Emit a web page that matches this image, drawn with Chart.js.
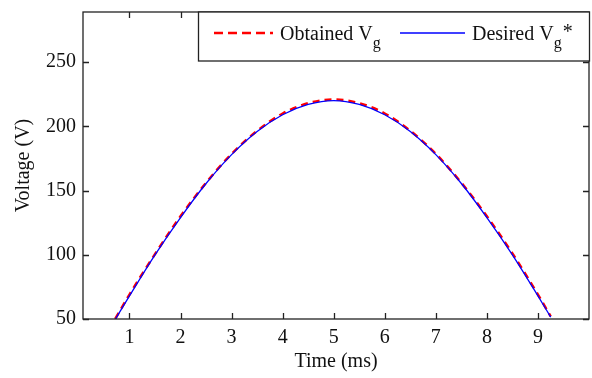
<!DOCTYPE html>
<html>
<head>
<meta charset="utf-8">
<script src="https://cdn.jsdelivr.net/npm/chart.js@4"></script>
<style>
  html, body { margin: 0; padding: 0; background: #fff; }
  #wrap { width: 592px; height: 378px; }
</style>
</head>
<body>
<div id="wrap"><canvas id="chart" width="592" height="378"></canvas></div>
<script>
// values
const timeMs = [0.72, 1, 1.5, 2, 2.5, 3, 3.5, 4, 4.5, 5, 5.5, 6, 6.5, 7, 7.5, 8, 8.5, 9, 9.25];
const desiredVg = [49.5, 68, 100, 129, 155.5, 178, 196, 209, 217, 220, 217, 209, 196, 178, 155.5, 129, 100, 68, 51.5];
const obtainedVg = [50, 69, 100.5, 130, 156, 178.5, 196.5, 210, 218, 221, 218, 210, 196.5, 178.5, 156, 130, 101, 69, 52];
const xTicks = [1, 2, 3, 4, 5, 6, 7, 8, 9];
const yTicks = [50, 100, 150, 200, 250];
const legendLabels = ["Obtained V", "Desired V"];

const FONT = "'Liberation Serif', 'Times New Roman', serif";
const ctx = document.getElementById("chart").getContext("2d");

function pts(xs, ys) {
  return xs.map((x, i) => ({ x, y: ys[i] }));
}

// MATLAB style: box around the axes, ticks pointing inward on all four sides
const boxTicks = {
  id: "boxTicks",
  afterDraw(chart) {
    const { ctx, chartArea: a, scales } = chart;
    ctx.save();
    ctx.strokeStyle = "#222";
    ctx.lineWidth = 1.3;
    ctx.strokeRect(a.left, a.top, a.right - a.left, a.bottom - a.top);
    ctx.beginPath();
    for (const v of xTicks) {
      const px = Math.round(scales.x.getPixelForValue(v)) + 0.5;
      ctx.moveTo(px, a.bottom); ctx.lineTo(px, a.bottom - 6);
      ctx.moveTo(px, a.top); ctx.lineTo(px, a.top + 6);
    }
    for (const v of yTicks) {
      const py = Math.round(scales.y.getPixelForValue(v)) + 0.5;
      ctx.moveTo(a.left, py); ctx.lineTo(a.left + 6, py);
      ctx.moveTo(a.right, py); ctx.lineTo(a.right - 6, py);
    }
    ctx.stroke();
    ctx.restore();
  },
};

// legend box with subscripts, drawn in the top right corner
const subLegend = {
  id: "subLegend",
  afterDraw(chart) {
    const { ctx, chartArea: a } = chart;
    const x0 = 198, y0 = a.top, x1 = a.right, y1 = 61;
    ctx.save();
    ctx.fillStyle = "#fff";
    ctx.fillRect(x0, y0, x1 - x0, y1 - y0);
    ctx.strokeStyle = "#222";
    ctx.lineWidth = 1.3;
    ctx.strokeRect(x0 + 0.5, y0, x1 - x0, y1 - y0);
    const ly = 33;
    ctx.lineWidth = 2.5;
    ctx.strokeStyle = "#ff0000";
    ctx.setLineDash([9, 5]);
    ctx.beginPath(); ctx.moveTo(214, ly); ctx.lineTo(273, ly); ctx.stroke();
    ctx.setLineDash([]);
    ctx.lineWidth = 1.3;
    ctx.strokeStyle = "#0000ff";
    ctx.beginPath(); ctx.moveTo(400, ly); ctx.lineTo(465, ly); ctx.stroke();

    ctx.fillStyle = "#111";
    ctx.textBaseline = "alphabetic";
    ctx.font = "20px " + FONT;
    ctx.fillText(legendLabels[0], 280, 40);
    let w = ctx.measureText(legendLabels[0]).width;
    ctx.font = "16px " + FONT;
    ctx.fillText("g", 280 + w, 48);
    ctx.font = "20px " + FONT;
    ctx.fillText(legendLabels[1], 472, 40);
    w = ctx.measureText(legendLabels[1]).width;
    ctx.font = "16px " + FONT;
    ctx.fillText("g", 472 + w, 48);
    ctx.font = "20px " + FONT;
    ctx.fillText("*", 472 + w + 9, 38);
    ctx.restore();
  },
};

new Chart(ctx, {
  type: "line",
  data: {
    datasets: [
      {
        label: "Desired Vg*",
        data: pts(timeMs, desiredVg),
        borderColor: "#0000ff",
        borderWidth: 1.3,
        pointRadius: 0,
        cubicInterpolationMode: "monotone",
        order: 1,
      },
      {
        label: "Obtained Vg",
        data: pts(timeMs, obtainedVg),
        borderColor: "#ff0000",
        borderWidth: 2.5,
        borderDash: [7, 5],
        pointRadius: 0,
        cubicInterpolationMode: "monotone",
        order: 2,
      },
    ],
  },
  options: {
    responsive: false,
    animation: false,
    layout: { padding: { top: 12, right: 3, left: 0, bottom: 0 } },
    plugins: { legend: { display: false }, tooltip: { enabled: false } },
    scales: {
      x: {
        type: "linear",
        min: 0.09,
        max: 10,
        afterBuildTicks: (s) => { s.ticks = xTicks.map((v) => ({ value: v })); },
        afterFit: (s) => { s.height = 59; s.paddingLeft = 0; s.paddingRight = 0; },
        grid: { display: false, drawTicks: false },
        border: { display: false },
        ticks: { color: "#111", font: { family: FONT, size: 20 }, padding: 7 },
        title: {
          display: true,
          text: "Time (ms)",
          color: "#111",
          font: { family: FONT, size: 20 },
          padding: { top: 4 },
        },
      },
      y: {
        min: 50,
        max: 289,
        afterBuildTicks: (s) => { s.ticks = yTicks.map((v) => ({ value: v })); },
        afterFit: (s) => { s.width = 83; s.paddingTop = 0; s.paddingBottom = 0; },
        grid: { display: false, drawTicks: false },
        border: { display: false },
        ticks: { color: "#111", font: { family: FONT, size: 20 }, padding: 7 },
        title: {
          display: true,
          text: "Voltage (V)",
          color: "#111",
          font: { family: FONT, size: 20 },
          padding: { top: 12, bottom: 0 },
        },
      },
    },
  },
  plugins: [boxTicks, subLegend],
});
</script>
</body>
</html>
